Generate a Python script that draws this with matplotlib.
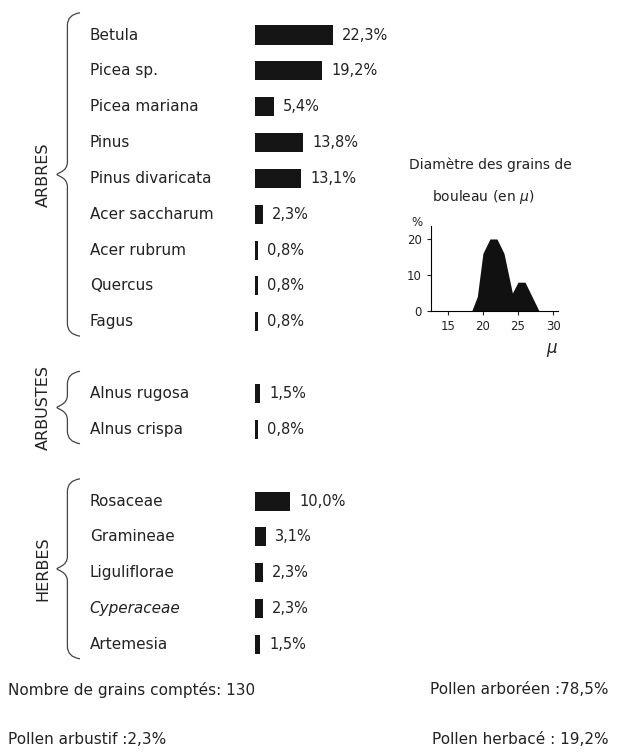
import numpy as np
import matplotlib
matplotlib.use("Agg")
import matplotlib.pyplot as plt
from matplotlib.path import Path
from matplotlib.patches import PathPatch

# pollen counts (%), one row per taxon
arbres = ["Betula", "Picea sp.", "Picea mariana", "Pinus", "Pinus divaricata",
          "Acer saccharum", "Acer rubrum", "Quercus", "Fagus"]
arbres_pct = [22.3, 19.2, 5.4, 13.8, 13.1, 2.3, 0.8, 0.8, 0.8]
arbustes = ["Alnus rugosa", "Alnus crispa"]
arbustes_pct = [1.5, 0.8]
herbes = ["Rosaceae", "Gramineae", "Liguliflorae", "Cyperaceae", "Artemesia"]
herbes_pct = [10.0, 3.1, 2.3, 2.3, 1.5]

# birch grain diameter histogram
diam = [18.4, 19.2, 20.0, 21.0, 22.0, 23.0, 24.2, 25.0, 26.0, 28.0]
diam_pct = [0, 4, 16, 20, 20, 16, 5, 8, 8, 0]

ink = "#222222"
plt.rcParams['font.family'] = ['DejaVu Sans']

fig = plt.figure(figsize=(6.44, 7.52), dpi=100)
ax = fig.add_axes([0, 0, 1, 1])
# x in percent (3.5 px per %), y in row units (35.85 px per row)
ax.set_xlim(-255 / 3.5, (644 - 255) / 3.5)
ax.set_ylim((752 - 35) / 35.85, -35 / 35.85)
ax.axis("off")

groups = [("ARBRES", arbres, arbres_pct, 0),
          ("ARBUSTES", arbustes, arbustes_pct, 10),
          ("HERBES", herbes, herbes_pct, 13)]


def brace(r0, r1):
    xe, xv, xp = -50.0, -53.6, -56.6
    top, bot = r0 - 0.62, r1 + 0.4
    mid = (top + bot) / 2
    d = 0.35
    verts = [(xe, top), (xv, top + 0.05), (xv, top + d),
             (xv, mid - d),
             (xv, mid - 0.08), (xp + 0.3, mid - 0.05), (xp, mid),
             (xp + 0.3, mid + 0.05), (xv, mid + 0.08), (xv, mid + d),
             (xv, bot - d),
             (xv, bot - 0.05), (xe, bot)]
    codes = [Path.MOVETO, Path.CURVE3, Path.CURVE3,
             Path.LINETO,
             Path.CURVE4, Path.CURVE4, Path.CURVE4,
             Path.CURVE4, Path.CURVE4, Path.CURVE4,
             Path.LINETO,
             Path.CURVE3, Path.CURVE3]
    ax.add_patch(PathPatch(Path(verts, codes), fill=False, lw=0.9, ec="#444444"))
    return mid


for gname, names, vals, start in groups:
    rows = np.arange(start, start + len(names))
    ax.barh(rows, vals, height=0.53, left=0, color="#151515")
    for r, n, v in zip(rows, names, vals):
        style = "italic" if n == "Cyperaceae" else "normal"
        ax.text(-47.2, r, n, fontsize=11, color=ink, va="center", ha="left",
                style=style)
        ax.text(v + 2.6, r, f"{v:.1f}".replace(".", ",") + "%", fontsize=10.5,
                color=ink, va="center", ha="left")
    mid = brace(rows[0], rows[-1])
    ax.text(-60.5, mid, gname, rotation=90, fontsize=11.5, color=ink,
            va="center", ha="center")

# bottom summary
fig.text(8 / 644, 1 - 690 / 752, "Nombre de grains comptés: 130", fontsize=11,
         color=ink, va="center")
fig.text(430 / 644, 1 - 690 / 752, "Pollen arboréen :78,5%", fontsize=11,
         color=ink, va="center")
fig.text(8 / 644, 1 - 740 / 752, "Pollen arbustif :2,3%", fontsize=11,
         color=ink, va="center")
fig.text(432 / 644, 1 - 740 / 752, "Pollen herbacé : 19,2%", fontsize=11,
         color=ink, va="center")

# inset: birch grain diameter
fig.text(490 / 644, 1 - 165 / 752, "Diamètre des grains de", fontsize=10,
         color=ink, ha="center", va="center")
fig.text(483 / 644, 1 - 197 / 752, "bouleau (en $\\mu$)", fontsize=10,
         color=ink, ha="center", va="center")
ins = fig.add_axes([431 / 644, 1 - 311 / 752, 127 / 644, 85 / 752])
ins.fill_between(diam, diam_pct, color="#111111", lw=0)
ins.set_xlim(12.6, 30.7)
ins.set_ylim(0, 23.6)
ins.spines["top"].set_visible(False)
ins.spines["right"].set_visible(False)
ins.set_xticks([15, 20, 25, 30])
ins.set_yticks([0, 10, 20])
ins.tick_params(labelsize=8.5, colors=ink, length=3)
ins.patch.set_alpha(0)
fig.text(417 / 644, 1 - 222 / 752, "%", fontsize=8.5, color=ink,
         ha="center", va="center")
fig.text(552 / 644, 1 - 350 / 752, "$\\mu$", fontsize=12, color=ink,
         ha="center", va="center")

fig.savefig("out.png", dpi=100)
